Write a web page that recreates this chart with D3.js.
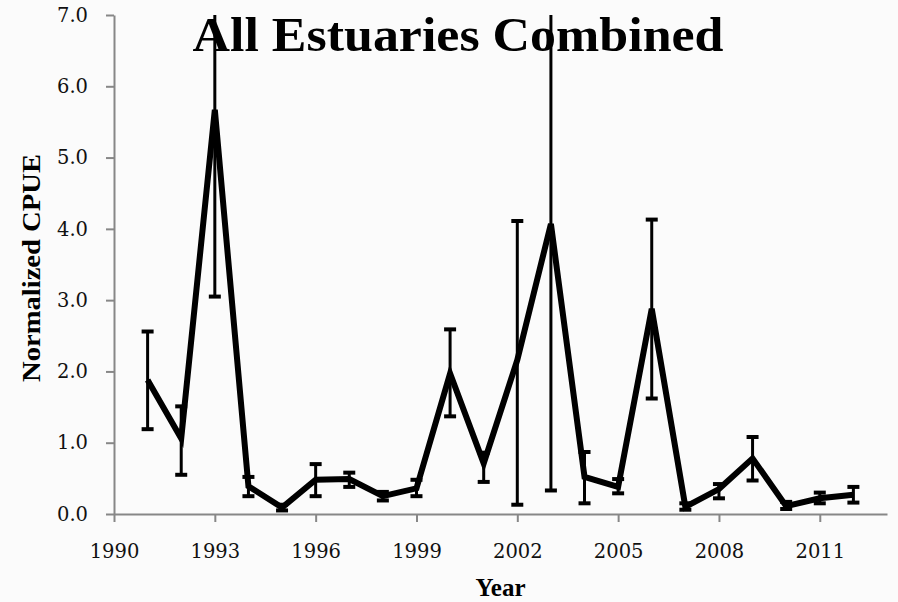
<!DOCTYPE html>
<html>
<head>
<meta charset="utf-8">
<script src="https://cdn.jsdelivr.net/npm/d3@7"></script>
<style>
  html, body { margin: 0; padding: 0; background: #fbfbfb; }
  svg { display: block; }
</style>
</head>
<body>
<svg id="chart" width="898" height="602"></svg>
<script>
const years  = [1991,1992,1993,1994,1995,1996,1997,1998,1999,2000,2001,2002,2003,2004,2005,2006,2007,2008,2009,2010,2011,2012];
const cpue   = [1.88,1.06,5.67,0.39,0.09,0.48,0.49,0.25,0.36,1.97,0.71,2.16,4.07,0.52,0.38,2.88,0.10,0.35,0.78,0.11,0.22,0.27];
const upper  = [2.56,1.51,8.29,0.52,0.13,0.70,0.58,0.31,0.48,2.59,0.86,4.11,7.81,0.87,0.49,4.13,0.15,0.42,1.08,0.17,0.30,0.38];
const lower  = [1.19,0.55,3.05,0.25,0.05,0.25,0.38,0.19,0.25,1.37,0.45,0.13,0.33,0.15,0.29,1.62,0.06,0.22,0.47,0.07,0.15,0.16];
const xTicks = [1990,1993,1996,1999,2002,2005,2008,2011];
const yTicks = [0,1,2,3,4,5,6,7];
const titleText = "All Estuaries Combined";
const xTitle = "Year";
const yTitle = "Normalized CPUE";

const svg = d3.select("#chart");
const W = 898, H = 602;
const m = {left: 114, right: 11, top: 15, bottom: 88};

svg.append("rect").attr("width", W).attr("height", H).attr("fill", "#fbfbfb");

const x = d3.scaleLinear().domain([1990, 2013]).range([m.left, W - m.right]);
const y = d3.scaleLinear().domain([0, 7]).range([H - m.bottom, m.top]);

const axisColor = "#878787";

// Axes
const gx = svg.append("g").attr("transform", `translate(0,${y(0)})`)
  .call(d3.axisBottom(x).tickValues(xTicks).tickFormat(d3.format("d")).tickSizeInner(8).tickSizeOuter(0).tickPadding(22));
const gy = svg.append("g").attr("transform", `translate(${x(1990)},0)`)
  .call(d3.axisLeft(y).tickValues(yTicks).tickFormat(d3.format(".1f")).tickSizeInner(8).tickSizeOuter(0).tickPadding(18));

[gx, gy].forEach(g => {
  g.select(".domain").attr("stroke", axisColor).attr("stroke-width", 2);
  g.selectAll(".tick line").attr("stroke", axisColor).attr("stroke-width", 2);
  g.selectAll(".tick text").attr("fill", "#111").attr("font-family", "DejaVu Serif, serif").attr("font-size", 19.5);
});
gy.selectAll(".tick text").attr("dy", "0.32em");

// Title (drawn before data so the data marks overlay it)
svg.append("text")
  .attr("x", 458).attr("y", 51)
  .attr("text-anchor", "middle")
  .attr("font-family", "Liberation Serif, serif").attr("font-weight", "bold")
  .attr("font-size", 49)
  .attr("textLength", 531).attr("lengthAdjust", "spacingAndGlyphs")
  .attr("fill", "#000")
  .text(titleText);

// Axis titles
svg.append("text")
  .attr("x", (x.range()[0] + x.range()[1]) / 2).attr("y", 596)
  .attr("text-anchor", "middle")
  .attr("font-family", "Liberation Serif, serif").attr("font-weight", "bold")
  .attr("font-size", 25).attr("fill", "#000")
  .text(xTitle);

svg.append("text")
  .attr("transform", `translate(40,${268}) rotate(-90)`)
  .attr("text-anchor", "middle")
  .attr("font-family", "Liberation Serif, serif").attr("font-weight", "bold")
  .attr("font-size", 25).attr("fill", "#000")
  .attr("textLength", 228).attr("lengthAdjust", "spacingAndGlyphs")
  .text(yTitle);

// Clip to plot area
svg.append("clipPath").attr("id", "plotClip")
  .append("rect")
  .attr("x", x.range()[0] - 20).attr("y", y(7))
  .attr("width", x.range()[1] - x.range()[0] + 40).attr("height", y(0) - y(7) + 20);

const data = years.map((yr, i) => ({yr, v: cpue[i], hi: upper[i], lo: lower[i]}));
const plot = svg.append("g").attr("clip-path", "url(#plotClip)");

// Error bars
const eb = plot.append("g").attr("stroke", "#000");
eb.selectAll("line.bar").data(data).join("line")
  .attr("class", "bar")
  .attr("x1", d => x(d.yr)).attr("x2", d => x(d.yr))
  .attr("y1", d => y(d.lo)).attr("y2", d => y(d.hi))
  .attr("stroke-width", 3);
const capW = 6;
eb.selectAll("line.capHi").data(data).join("line")
  .attr("class", "capHi")
  .attr("x1", d => x(d.yr) - capW).attr("x2", d => x(d.yr) + capW)
  .attr("y1", d => y(d.hi)).attr("y2", d => y(d.hi))
  .attr("stroke-width", 4);
eb.selectAll("line.capLo").data(data).join("line")
  .attr("class", "capLo")
  .attr("x1", d => x(d.yr) - capW).attr("x2", d => x(d.yr) + capW)
  .attr("y1", d => y(d.lo)).attr("y2", d => y(d.lo))
  .attr("stroke-width", 4);

// Line
plot.append("path")
  .datum(data)
  .attr("fill", "none")
  .attr("stroke", "#000")
  .attr("stroke-width", 6)
  .attr("stroke-linejoin", "miter")
  .attr("d", d3.line().x(d => x(d.yr)).y(d => y(d.v)));
</script>
</body>
</html>
